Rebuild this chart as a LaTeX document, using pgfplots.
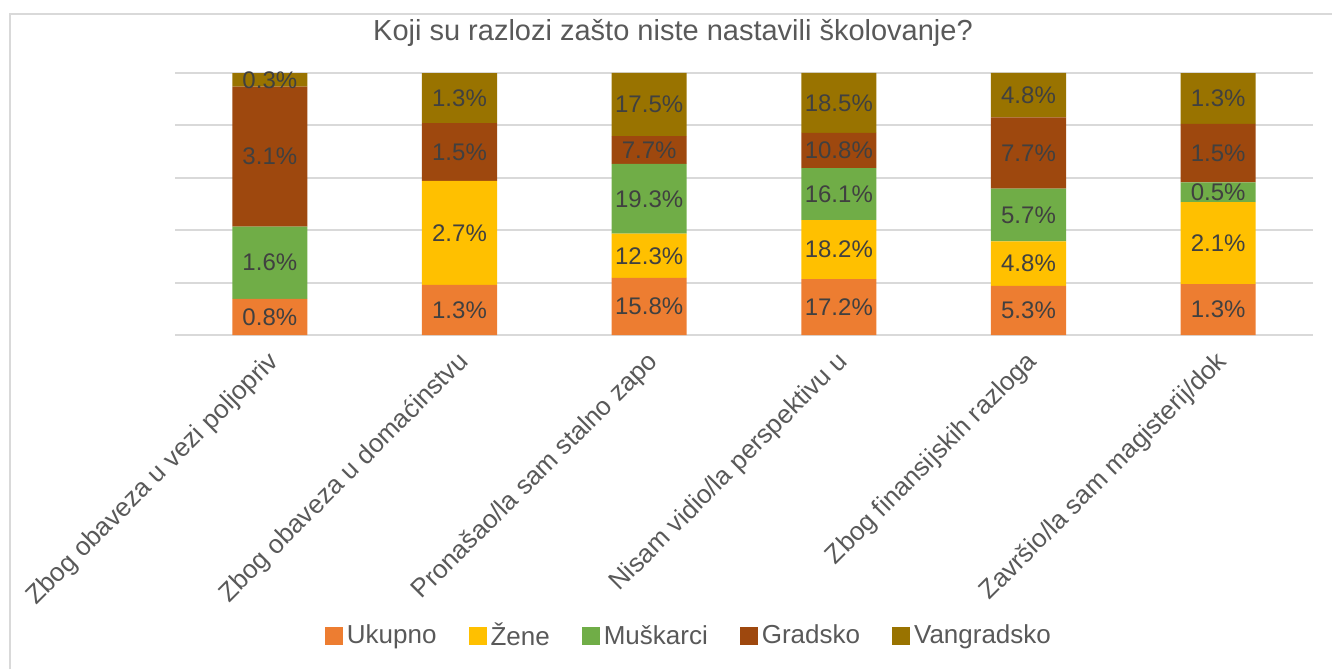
\documentclass[border=0pt]{standalone}
\usepackage{pgfplots}
\pgfplotsset{compat=1.18}
\usepackage{pgfplotstable}
\usepackage{fontspec}
\setmainfont{Liberation Sans}
\definecolor{cU}{HTML}{ED7D31}
\definecolor{cZ}{HTML}{FFC000}
\definecolor{cM}{HTML}{70AD47}
\definecolor{cG}{HTML}{9E480E}
\definecolor{cV}{HTML}{997300}
\definecolor{txt}{HTML}{595959}
\definecolor{lab}{HTML}{404040}
\definecolor{grd}{HTML}{D9D9D9}

\pgfplotstableread{
cat U Z M G V
0 0.8 0 1.6 3.1 0.3
1 1.3 2.7 0 1.5 1.3
2 15.8 12.3 19.3 7.7 17.5
3 17.2 18.2 16.1 10.8 18.5
4 5.3 4.8 5.7 7.7 4.8
5 1.3 2.1 0.5 1.5 1.3
}\data

\newcommand{\tot}{(\thisrow{U}+\thisrow{Z}+\thisrow{M}+\thisrow{G}+\thisrow{V})}

\pgfplotsset{
  base/.style={at={(87.5pt,167pt)}, anchor=south west, scale only axis,
    width=569pt, height=131pt, xmin=-0.5, xmax=5.5, ymin=0, ymax=100, clip=false},
}

\begin{document}
\begin{tikzpicture}
\begin{axis}[base, ybar stacked, bar width=37.5pt,
  axis line style={draw=none},
  ytick={0,20,...,100}, yticklabels={},
  ymajorgrids, major grid style={grd, line width=1pt},
  major tick length=0pt,
  xtick={0,...,5},
  xticklabels={Zbog obaveza u vezi poljopriv, Zbog obaveza u domaćinstvu, Pronašao/la sam stalno zapo, Nisam vidio/la perspektivu u, Zbog finansijskih razloga, Završio/la sam magisterij/dok},
  xticklabel style={xshift=5pt, yshift=-9pt, rotate=45, anchor=east, font=\fontsize{13}{15}\selectfont, text=txt},
  legend style={at={(0.4525,-1.149)}, anchor=center, draw=none, legend columns=-1,
    font=\fontsize{13}{15}\selectfont, text=txt,
    /tikz/every even column/.append style={column sep=14pt}},
  legend image code/.code={\draw[#1,draw=none] (0pt,-4.5pt) rectangle (9pt,4.5pt);},
]
\addplot[fill=cU, draw=none] table [x=cat, y expr=\thisrow{U}/\tot*100] {\data};
\addplot[fill=cZ, draw=none] table [x=cat, y expr=\thisrow{Z}/\tot*100] {\data};
\addplot[fill=cM, draw=none] table [x=cat, y expr=\thisrow{M}/\tot*100] {\data};
\addplot[fill=cG, draw=none] table [x=cat, y expr=\thisrow{G}/\tot*100] {\data};
\addplot[fill=cV, draw=none] table [x=cat, y expr=\thisrow{V}/\tot*100] {\data};
\legend{Ukupno, Žene, Muškarci, Gradsko, Vangradsko}
\node[font=\fontsize{14.5}{17}\selectfont, text=txt] at (rel axis cs:0.4376,1.154) {Koji su razlozi zašto niste nastavili školovanje?};
\end{axis}
\begin{axis}[base, hide axis, point meta=explicit,
  /pgf/number format/assume math mode=true,
  nodes near coords={\pgfmathprintnumber[fixed,fixed zerofill,precision=1]{\pgfplotspointmeta}\%},
  every node near coord/.append style={anchor=center, font=\fontsize{12}{14}\selectfont, text=lab},
]
\addplot[only marks, mark=none, restrict expr to domain={\thisrow{U}}{0.01:1000}] table [x=cat, y expr=(\thisrow{U}/2)/\tot*100, meta=U] {\data};
\addplot[only marks, mark=none, restrict expr to domain={\thisrow{Z}}{0.01:1000}] table [x=cat, y expr=(\thisrow{U}+\thisrow{Z}/2)/\tot*100, meta=Z] {\data};
\addplot[only marks, mark=none, restrict expr to domain={\thisrow{M}}{0.01:1000}] table [x=cat, y expr=(\thisrow{U}+\thisrow{Z}+\thisrow{M}/2)/\tot*100, meta=M] {\data};
\addplot[only marks, mark=none, restrict expr to domain={\thisrow{G}}{0.01:1000}] table [x=cat, y expr=(\thisrow{U}+\thisrow{Z}+\thisrow{M}+\thisrow{G}/2)/\tot*100, meta=G] {\data};
\addplot[only marks, mark=none, restrict expr to domain={\thisrow{V}}{0.01:1000}] table [x=cat, y expr=(\thisrow{U}+\thisrow{Z}+\thisrow{M}+\thisrow{G}+\thisrow{V}/2)/\tot*100, meta=V] {\data};
\end{axis}
\pgfresetboundingbox
\path[use as bounding box] (0,0) rectangle (666pt,334.5pt);
\draw[grd, line width=0.6pt] (5pt,0) -- (5pt,327.5pt) -- (666pt,327.5pt);
\end{tikzpicture}
\end{document}
